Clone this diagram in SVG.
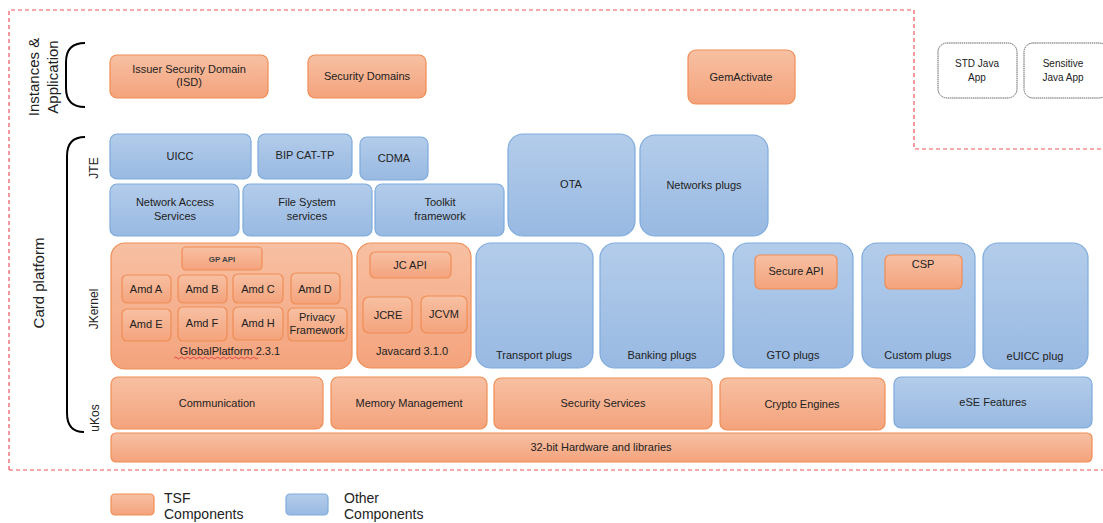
<svg xmlns="http://www.w3.org/2000/svg" width="1103" height="523" viewBox="0 0 1103 523">
<defs>
<linearGradient id="gO" x1="0" y1="0" x2="0" y2="1"><stop offset="0" stop-color="#F7C0A3"/><stop offset="1" stop-color="#F4A37C"/></linearGradient>
<linearGradient id="gB" x1="0" y1="0" x2="0" y2="1"><stop offset="0" stop-color="#B3CCEA"/><stop offset="1" stop-color="#98B9E2"/></linearGradient>
<style>
.o{fill:url(#gO);stroke:#F08D55;stroke-width:1.2}
.b{fill:url(#gB);stroke:#7EABDC;stroke-width:1.2}
.w{fill:#fff;stroke:#666;stroke-width:1;stroke-dasharray:1.5 0.6}
.t{font-family:"Liberation Sans",Arial,sans-serif;font-size:11px;fill:#222;text-anchor:middle}
.s{font-size:10px}
.lbl{font-family:"Liberation Sans",Arial,sans-serif;font-size:15px;fill:#222;text-anchor:middle}
.sl{font-family:"Liberation Sans",Arial,sans-serif;font-size:12px;fill:#222;text-anchor:middle}
.leg{font-family:"Liberation Sans",Arial,sans-serif;font-size:14px;fill:#222}
.dash{fill:none;stroke:#F2545B;stroke-width:1.2;stroke-dasharray:4 3}
.br{fill:none;stroke:#000;stroke-width:2}
</style>
</defs>
<rect width="1103" height="523" fill="#fff"/>

<g id="borders">
<path class="dash" d="M9,470 V10 H914 V149 H1103"/>
<path class="dash" d="M9,470 H1103"/>
</g>

<g id="labels">
<text class="lbl" transform="translate(39,77) rotate(-90)">Instances &amp;</text>
<text class="lbl" transform="translate(58,77) rotate(-90)">Application</text>
<path class="br" d="M85,43 C72,43 66,50 66,62 V88 C66,100 72,107 85,107"/>
<text class="lbl" transform="translate(44,283) rotate(-90)">Card platform</text>
<path class="br" d="M85,137 C73,137 67,144 67,156 V413 C67,425 72,432 84,432"/>
<text class="sl" transform="translate(98,168) rotate(-90)">JTE</text>
<text class="sl" transform="translate(98,309) rotate(-90)">JKernel</text>
<text class="sl" transform="translate(99,418) rotate(-90)">uKos</text>
</g>

<g id="isd"><rect class="o" x="110" y="55" width="158" height="43" rx="7"/><text class="t" x="189" y="73">Issuer Security Domain</text><text class="t" x="189" y="86">(ISD)</text></g>
<g id="sd"><rect class="o" x="308" y="55" width="118" height="43" rx="7"/><text class="t" x="367" y="80">Security Domains</text></g>
<g id="gemactivate"><rect class="o" x="688" y="50" width="107" height="54" rx="8"/><text class="t" x="741" y="81">GemActivate</text></g>
<g id="stdjava"><rect class="w" x="938" y="43" width="79" height="55" rx="9"/><text class="t s" x="977" y="67">STD Java</text><text class="t s" x="977" y="81">App</text></g>
<g id="sensjava"><rect class="w" x="1024" y="43" width="84" height="55" rx="9"/><text class="t s" x="1063" y="67">Sensitive</text><text class="t s" x="1063" y="81">Java App</text></g>

<g id="uicc"><rect class="b" x="110" y="134" width="141" height="45" rx="7"/><text class="t" x="180" y="160">UICC</text></g>
<g id="bip"><rect class="b" x="258" y="134" width="94" height="45" rx="7"/><text class="t" x="305" y="159">BIP CAT-TP</text></g>
<g id="cdma"><rect class="b" x="360" y="137" width="68" height="43" rx="7"/><text class="t" x="394" y="162">CDMA</text></g>
<g id="nas"><rect class="b" x="110" y="184" width="129" height="52" rx="7"/><text class="t" x="175" y="206">Network Access</text><text class="t" x="175" y="220">Services</text></g>
<g id="fss"><rect class="b" x="243" y="184" width="129" height="52" rx="7"/><text class="t" x="307" y="206">File System</text><text class="t" x="307" y="220">services</text></g>
<g id="toolkit"><rect class="b" x="375" y="184" width="129" height="52" rx="7"/><text class="t" x="440" y="206">Toolkit</text><text class="t" x="440" y="220">framework</text></g>
<g id="ota"><rect class="b" x="508" y="134" width="127" height="102" rx="15"/><text class="t" x="571" y="188">OTA</text></g>
<g id="netplugs"><rect class="b" x="640" y="135" width="128" height="101" rx="15"/><text class="t" x="704" y="189">Networks plugs</text></g>

<g id="globalplatform">
<rect class="o" x="111" y="243" width="241" height="126" rx="14"/>
<rect class="o" x="182" y="247" width="80" height="23" rx="4"/><text class="t" x="222" y="262" style="font-size:8px;font-weight:bold;fill:#444">GP API</text>
<rect class="o" x="122" y="275" width="49" height="28" rx="5"/><text class="t" x="146" y="293">Amd A</text>
<rect class="o" x="178" y="275" width="49" height="28" rx="5"/><text class="t" x="202" y="293">Amd B</text>
<rect class="o" x="233" y="274" width="50" height="29" rx="5"/><text class="t" x="258" y="293">Amd C</text>
<rect class="o" x="291" y="273" width="49" height="31" rx="5"/><text class="t" x="315" y="293">Amd D</text>
<rect class="o" x="122" y="309" width="49" height="32" rx="5"/><text class="t" x="146" y="328">Amd E</text>
<rect class="o" x="178" y="307" width="49" height="34" rx="5"/><text class="t" x="202" y="327">Amd F</text>
<rect class="o" x="233" y="307" width="50" height="33" rx="5"/><text class="t" x="258" y="327">Amd H</text>
<rect class="o" x="288" y="308" width="59" height="33" rx="5"/><text class="t" x="317" y="321">Privacy</text><text class="t" x="317" y="334">Framework</text>
<text class="t" x="230" y="355">GlobalPlatform 2.3.1</text>
<path d="M174,358 q1.5,-1.6 3,0 t3,0 t3,0 t3,0 t3,0 t3,0 t3,0 t3,0 t3,0 t3,0 t3,0 t3,0 t3,0 t3,0 t3,0 t3,0 t3,0 t3,0 t3,0 t3,0 t3,0 t3,0 t3,0 t3,0 t3,0 t3,0 t3,0 t3,0" fill="none" stroke="#E0303A" stroke-width="0.8"/>
</g>
<g id="javacard">
<rect class="o" x="357" y="243" width="114" height="125" rx="14"/>
<rect class="o" x="370" y="252" width="81" height="26" rx="5"/><text class="t" x="410" y="269">JC API</text>
<rect class="o" x="363" y="297" width="49" height="36" rx="6"/><text class="t" x="388" y="319">JCRE</text>
<rect class="o" x="421" y="296" width="46" height="37" rx="6"/><text class="t" x="444" y="318">JCVM</text>
<text class="t" x="412" y="355">Javacard 3.1.0</text>
</g>
<g id="transport"><rect class="b" x="476" y="243" width="117" height="125" rx="15"/><text class="t" x="534" y="359">Transport plugs</text></g>
<g id="banking"><rect class="b" x="600" y="243" width="124" height="125" rx="15"/><text class="t" x="662" y="359">Banking plugs</text></g>
<g id="gto"><rect class="b" x="733" y="243" width="120" height="125" rx="15"/><rect class="o" x="755" y="255" width="82" height="34" rx="5"/><text class="t" x="796" y="275">Secure API</text><text class="t" x="793" y="359">GTO plugs</text></g>
<g id="custom"><rect class="b" x="862" y="243" width="113" height="125" rx="15"/><rect class="o" x="885" y="255" width="77" height="34" rx="5"/><text class="t" x="923" y="268">CSP</text><text class="t" x="918" y="359">Custom plugs</text></g>
<g id="euicc"><rect class="b" x="983" y="243" width="105" height="126" rx="15"/><text class="t" x="1035" y="360">eUICC plug</text></g>

<g id="communication"><rect class="o" x="111" y="377" width="212" height="52" rx="7"/><text class="t" x="217" y="407">Communication</text></g>
<g id="memory"><rect class="o" x="331" y="377" width="156" height="52" rx="7"/><text class="t" x="409" y="407">Memory Management</text></g>
<g id="secservices"><rect class="o" x="494" y="378" width="218" height="51" rx="7"/><text class="t" x="603" y="407">Security Services</text></g>
<g id="crypto"><rect class="o" x="720" y="378" width="165" height="52" rx="7"/><text class="t" x="802" y="408">Crypto Engines</text></g>
<g id="ese"><rect class="b" x="894" y="377" width="198" height="51" rx="7"/><text class="t" x="993" y="406">eSE Features</text></g>
<g id="hardware"><rect class="o" x="111" y="433" width="981" height="29" rx="5"/><text class="t" x="601" y="451">32-bit Hardware and libraries</text></g>

<g id="legend">
<rect class="o" x="111" y="494" width="43" height="21" rx="4"/>
<text class="leg" x="164" y="503">TSF</text><text class="leg" x="164" y="519">Components</text>
<rect class="b" x="286" y="494" width="42" height="21" rx="4"/>
<text class="leg" x="344" y="503">Other</text><text class="leg" x="344" y="519">Components</text>
</g>
<g id="connectors"></g>
</svg>
